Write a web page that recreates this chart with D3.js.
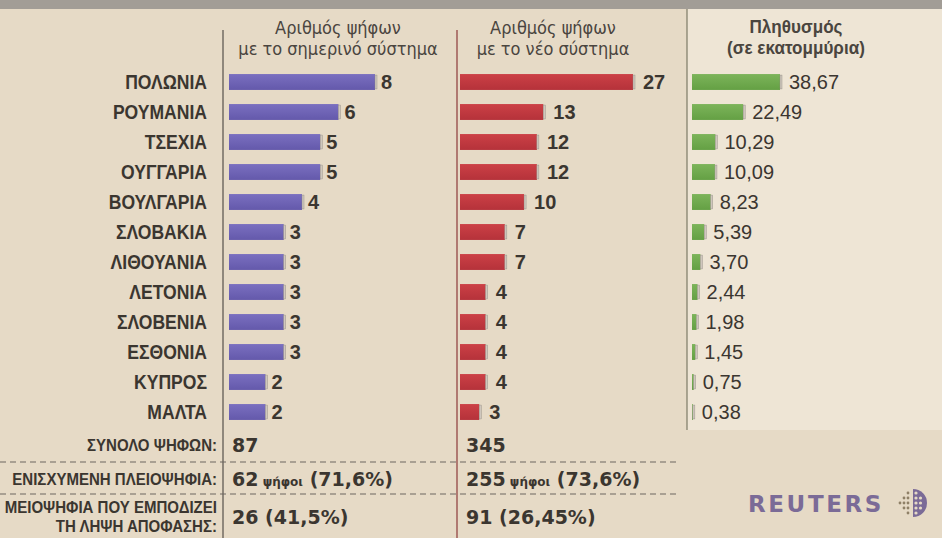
<!DOCTYPE html>
<html>
<head>
<meta charset="utf-8">
<script src="https://cdn.jsdelivr.net/npm/d3@7/dist/d3.min.js"></script>
<style>
  body { margin: 0; background: #e6dac6; }
  svg { display: block; }
</style>
</head>
<body>
<svg id="chart" width="942" height="538"></svg>
<script>
const countries = ['ΠΟΛΩΝΙΑ', 'ΡΟΥΜΑΝΙΑ', 'ΤΣΕΧΙΑ', 'ΟΥΓΓΑΡΙΑ', 'ΒΟΥΛΓΑΡΙΑ', 'ΣΛΟΒΑΚΙΑ',
	'ΛΙΘΟΥΑΝΙΑ', 'ΛΕΤΟΝΙΑ', 'ΣΛΟΒΕΝΙΑ', 'ΕΣΘΟΝΙΑ', 'ΚΥΠΡΟΣ', 'ΜΑΛΤΑ']
const votesNow = [8, 6, 5, 5, 4, 3, 3, 3, 3, 3, 2, 2]
const votesNew = [27, 13, 12, 12, 10, 7, 7, 4, 4, 4, 4, 3]
const population = [38.67, 22.49, 10.29, 10.09, 8.23, 5.39, 3.70, 2.44, 1.98, 1.45, 0.75, 0.38]

const headerNow = ['Αριθμός ψήφων', 'με το σημερινό σύστημα']
const headerNew = ['Αριθμός ψήφων', 'με το νέο σύστημα']
const headerPop = ['Πληθυσμός', '(σε εκατομμύρια)']

const summaryLabels = [['ΣΥΝΟΛΟ ΨΗΦΩΝ:'], ['ΕΝΙΣΧΥΜΕΝΗ ΠΛΕΙΟΨΗΦΙΑ:'], ['ΜΕΙΟΨΗΦΙΑ ΠΟΥ ΕΜΠΟΔΙΖΕΙ', 'ΤΗ ΛΗΨΗ ΑΠΟΦΑΣΗΣ:']]
const summaryNow = [['87'], ['62', ' ψήφοι', ' (71,6%)'], ['26', ' (41,5%)']]
const summaryNew = [['345'], ['255', ' ψήφοι', ' (73,6%)'], ['91', ' (26,45%)']]

const svg = d3.select('#chart')
const width = +svg.attr('width')
const height = +svg.attr('height')

const cond = '"DejaVu Sans Condensed", "DejaVu Sans", sans-serif'
const wide = '"Liberation Sans", Arial, sans-serif'
const heavy = '"DejaVu Sans", sans-serif'
const ink = '#3b3630'

// background
svg.append('rect').attr('width', width).attr('height', height).attr('fill', '#e6dac6')
svg.append('rect').attr('width', width).attr('height', 9).attr('fill', '#a29d96')
svg.append('rect').attr('x', 687).attr('y', 9).attr('width', width - 687).attr('height', 421)
	.attr('fill', '#eee5d5')

// column dividers
svg.append('line').attr('x1', 223).attr('x2', 223).attr('y1', 30).attr('y2', height)
	.attr('stroke', '#55504a').attr('stroke-width', 1.2)
svg.append('line').attr('x1', 457).attr('x2', 457).attr('y1', 30).attr('y2', height)
	.attr('stroke', '#8c3a3a').attr('stroke-width', 1.2)
svg.append('line').attr('x1', 687).attr('x2', 687).attr('y1', 9).attr('y2', 430)
	.attr('stroke', '#7c7a66').attr('stroke-width', 1.2)

// headers (sx squeezes the glyphs horizontally)
const header = (lines, cx, font, size, weight, sx, base) => {
	svg.append('text')
		.attr('transform', `scale(${sx},1)`)
		.attr('text-anchor', 'middle')
		.attr('font-family', font)
		.attr('font-size', size)
		.attr('font-weight', weight)
		.attr('fill', '#4a453f')
		.selectAll('tspan')
		.data(lines)
		.enter()
		.append('tspan')
		.attr('x', cx / sx)
		.attr('y', (d, i) => base + i * 21)
		.text(d => d)
}
header(headerNow, 338, cond, 18, 'normal', 1, 34)
header(headerNew, 553, cond, 18, 'normal', 1, 34)
header(headerPop, 796, wide, 18, 'bold', 0.95, 33)

// rows
const yScale = d3.scaleBand()
	.domain(countries)
	.range([67, 427])
	.paddingInner(0.47)
	.paddingOuter(0.235)

const xNow = d3.scaleLinear().domain([0, 8]).range([229, 375])
const xNew = d3.scaleLinear().domain([0, 27]).range([460, 633])
const xPop = d3.scaleLinear().domain([0, 38.67]).range([692, 780])

const rows = countries.map((c, i) => ({
	country: c, now: votesNow[i], nw: votesNew[i], pop: population[i]
}))

const g = svg.append('g')
const bh = yScale.bandwidth()
const labelSx = 0.9

g.selectAll('.country')
	.data(rows)
	.enter()
	.append('text')
	.attr('class', 'country')
	.attr('transform', `scale(${labelSx},1)`)
	.attr('x', 207 / labelSx)
	.attr('y', d => yScale(d.country) + bh / 2)
	.attr('dy', '0.36em')
	.attr('text-anchor', 'end')
	.attr('font-family', wide)
	.attr('font-weight', 'bold')
	.attr('font-size', 19.5)
	.attr('fill', ink)
	.text(d => d.country)

const defs = svg.append('defs')
const grad = (id, top, bottom) => {
	const lg = defs.append('linearGradient').attr('id', id)
		.attr('x1', 0).attr('x2', 0).attr('y1', 0).attr('y2', 1)
	lg.append('stop').attr('offset', '0%').attr('stop-color', top)
	lg.append('stop').attr('offset', '100%').attr('stop-color', bottom)
}
grad('gBlue', '#7a6fc0', '#6459ab')
grad('gRed', '#cc4046', '#b5323a')
grad('gGreen', '#7cb45a', '#64a044')

const barSet = (scale, key, fill, labelFn, labelWeight, gap) => {
	g.selectAll('.bar-' + key)
		.data(rows)
		.enter()
		.append('rect')
		.attr('class', 'bar-' + key)
		.attr('x', scale(0))
		.attr('y', d => yScale(d.country))
		.attr('width', d => scale(d[key]) - scale(0))
		.attr('height', bh)
		.attr('fill', fill)

	// light end caps
	g.selectAll('.cap-' + key)
		.data(rows)
		.enter()
		.append('rect')
		.attr('class', 'cap-' + key)
		.attr('x', d => scale(d[key]))
		.attr('y', d => yScale(d.country) + 1)
		.attr('width', 2)
		.attr('height', bh - 2)
		.attr('fill', '#cfc7bd')
		.attr('stroke', '#8d877f')
		.attr('stroke-width', 0.4)

	g.selectAll('.val-' + key)
		.data(rows)
		.enter()
		.append('text')
		.attr('class', 'val-' + key)
		.attr('x', d => scale(d[key]) + gap)
		.attr('y', d => yScale(d.country) + bh / 2)
		.attr('dy', '0.36em')
		.attr('font-family', wide)
		.attr('font-weight', labelWeight)
		.attr('font-size', 20)
		.attr('fill', ink)
		.text(labelFn)
}

barSet(xNow, 'now', 'url(#gBlue)', d => d.now, 'bold', 6)
barSet(xNew, 'nw', 'url(#gRed)', d => d.nw, 'bold', 10)
barSet(xPop, 'pop', 'url(#gGreen)', d => d3.format('.2f')(d.pop).replace('.', ','), 'normal', 9)

// summary block
const rowBase = [451, 485, 513]
const sumSx = 0.94
svg.selectAll('.sumlabel')
	.data(summaryLabels)
	.enter()
	.append('text')
	.attr('class', 'sumlabel')
	.attr('transform', `scale(${sumSx},1)`)
	.attr('text-anchor', 'end')
	.attr('font-family', wide)
	.attr('font-weight', 'bold')
	.attr('font-size', 16)
	.attr('fill', ink)
	.each(function(lines, i) {
		d3.select(this).selectAll('tspan')
			.data(lines)
			.enter()
			.append('tspan')
			.attr('x', 217 / sumSx)
			.attr('y', (d, j) => rowBase[i] + j * 19)
			.text(d => d)
	})

const valueRow = [452, 486, 524]
const summaryValues = (vals, x0) => {
	svg.selectAll(null)
		.data(vals)
		.enter()
		.append('text')
		.attr('x', x0)
		.attr('y', (d, i) => valueRow[i])
		.attr('font-family', heavy)
		.attr('font-weight', 'bold')
		.attr('fill', ink)
		.each(function(parts) {
			d3.select(this).selectAll('tspan')
				.data(parts)
				.enter()
				.append('tspan')
				.attr('font-size', d => d === ' ψήφοι' ? 12 : 19)
				.text(d => d)
		})
}
summaryValues(summaryNow, 232)
summaryValues(summaryNew, 466)

svg.selectAll('.dash')
	.data([462, 494])
	.enter()
	.append('line')
	.attr('x1', 0)
	.attr('x2', 678)
	.attr('y1', d => d)
	.attr('y2', d => d)
	.attr('stroke', '#6d6760')
	.attr('stroke-width', 1)
	.attr('stroke-dasharray', '6,4')

// reuters mark
const logo = svg.append('g').attr('fill', '#7b6b97')
logo.append('text')
	.attr('x', 748)
	.attr('y', 512)
	.attr('font-family', heavy)
	.attr('font-weight', 'bold')
	.attr('font-size', 23)
	.attr('letter-spacing', 2.6)
	.text('REUTERS')

const cx = 913, cy = 503, r = 14
logo.append('path')
	.attr('d', d3.arc()({innerRadius: 0, outerRadius: r, startAngle: 0, endAngle: Math.PI}))
	.attr('transform', `translate(${cx},${cy})`)
const holes = []
for (let c = 0; c < 3; c++) {
	for (let k = -2; k <= 2; k++) {
		const hx = cx + 3 + c * 4.5
		const hy = cy + k * 5
		if ((hx - cx) ** 2 + (hy - cy) ** 2 < (r - 2) ** 2) holes.push([hx, hy])
	}
}
svg.selectAll('.hole').data(holes).enter().append('circle')
	.attr('cx', d => d[0]).attr('cy', d => d[1]).attr('r', 1.6).attr('fill', '#e6dac6')
const outer = []
for (let c = 1; c <= 3; c++) {
	for (let k = -2; k <= 2; k++) {
		if (Math.abs(k) <= 3 - c) outer.push([cx - 1 - c * 4, cy + k * 5])
	}
}
svg.selectAll('.odot').data(outer).enter().append('circle')
	.attr('cx', d => d[0]).attr('cy', d => d[1]).attr('r', 1.4).attr('fill', '#8f8067')
</script>
</body>
</html>
